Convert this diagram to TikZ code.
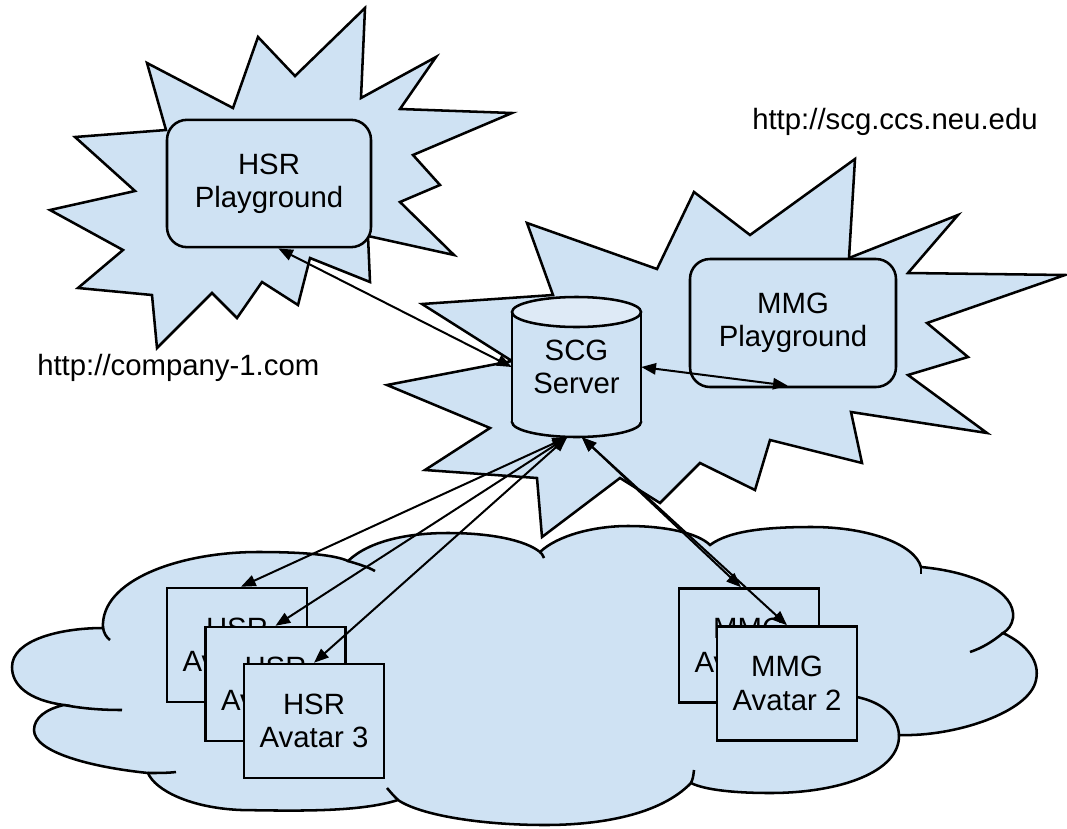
\documentclass[tikz,border=0pt]{standalone}
\usepackage{fontspec}
\setmainfont{Liberation Sans}
\usetikzlibrary{arrows.meta,calc}
\definecolor{skyfill}{HTML}{CFE2F3}
\definecolor{capfill}{HTML}{DEEAF6}

\begin{document}
\begin{tikzpicture}[x=0.75pt,y=-0.75pt,
  outline/.style={draw=black,line width=1.9pt,fill=skyfill},
  label/.style={font=\fontsize{22}{25}\selectfont,align=center,inner sep=0pt},
  pgbox/.style={outline,label,rounded corners=15pt,minimum width=153pt,minimum height=95.5pt},
  avbox/.style={outline,label,minimum width=105pt,minimum height=85.5pt},
  url/.style={font=\fontsize{22}{25}\selectfont,anchor=west,inner sep=0pt},
  hook/.style={draw=black,line width=1.9pt},
  link/.style={line width=1.5pt,{Triangle[length=11pt,width=8.5pt]}-{Triangle[length=11pt,width=8.5pt]}}]
\useasboundingbox (0,0) rectangle (1067,828);

% company-1 starburst
\path[outline] (147,63) -- (233,108) -- (258,37) -- (295,76) -- (365,8) -- (361,98)
  -- (436,57) -- (400,109) -- (512,113) -- (413,155) -- (440,185) -- (400,202)
  -- (454,255) -- (368,236) -- (370,282) -- (310,258) -- (298,305) -- (262,282)
  -- (237,318) -- (212,293) -- (157,348) -- (152,295) -- (78,288) -- (123,250)
  -- (50,210) -- (135,191) -- (75,137) -- (166,130) -- cycle;

% scg.ccs.neu.edu starburst
\path[outline] (527,223) -- (657,269) -- (694,192) -- (750,235) -- (855,159) -- (849,258)
  -- (958,215) -- (908,273) -- (1065,275) -- (927,323) -- (968,357) -- (908,375)
  -- (987,433) -- (851,412) -- (862,463) -- (770,440) -- (755,490) -- (700,463)
  -- (660,503) -- (620,478) -- (542,537) -- (537,478) -- (425,470) -- (490,428)
  -- (387,385) -- (512,361) -- (422,304) -- (553,295) -- cycle;

% client cloud
\path[outline] (103,628)
  .. controls (100,580) and (180,552) .. (258,552)
  .. controls (305,552) and (335,555) .. (348,561)
  .. controls (370,540) and (410,533) .. (448,533)
  .. controls (490,533) and (525,540) .. (540,552)
  .. controls (558,535) and (595,526) .. (628,526)
  .. controls (665,526) and (698,533) .. (710,545)
  .. controls (730,530) and (770,527) .. (812,527)
  .. controls (870,527) and (915,545) .. (921,567)
  .. controls (975,572) and (1016,592) .. (1013,618)
  .. controls (1012,625) and (1008,630) .. (1003,633)
  .. controls (1028,645) and (1040,662) .. (1036,680)
  .. controls (1030,712) and (955,737) .. (899,735)
  .. controls (900,772) and (840,793) .. (770,793)
  .. controls (735,793) and (705,790) .. (691,783)
  .. controls (660,815) and (600,825) .. (545,825)
  .. controls (480,825) and (420,815) .. (398,800)
  .. controls (360,812) and (300,811) .. (241,810)
  .. controls (190,808) and (155,790) .. (148,773)
  .. controls (90,767) and (34,752) .. (34,730)
  .. controls (34,718) and (46,709) .. (64,705)
  .. controls (28,700) and (12,685) .. (12,667)
  .. controls (12,640) and (60,628) .. (103,628)
  -- cycle;
% inner ends of the cloud lobes
\path[hook] (103,628) .. controls (104,633) and (106,637) .. (110,640);
\path[hook] (348,561) .. controls (358,564) and (368,567) .. (375,571);
\path[hook] (540,552) .. controls (542,554) .. (544,558);
\path[hook] (921,567) -- (921,574);
\path[hook] (1003,633) .. controls (992,642) and (982,648) .. (970,652);
\path[hook] (857,697) .. controls (885,703) and (898,718) .. (899,735);
\path[hook] (691,783) .. controls (693,778) .. (694,770);
\path[hook] (398,800) .. controls (393,795) .. (387,788);
\path[hook] (148,773) .. controls (158,773) and (168,773) .. (176,772);
\path[hook] (64,705) .. controls (85,709) and (105,710) .. (122,710);

% playgrounds
\node[pgbox] (hpg) at (269,183.5) {HSR\\Playground};
\node[pgbox,minimum width=154.5pt,minimum height=96pt] (mpg) at (793,323) {MMG\\Playground};

% server cylinder
\path[outline] (576.5,422) ellipse [x radius=48.375pt, y radius=11.25pt];
\fill[skyfill] (512,312) rectangle (641,422);
\draw[line width=1.9pt] (512,312) -- (512,422) (641,312) -- (641,422);
\path[outline,fill=capfill] (576.5,312) ellipse [x radius=48.375pt, y radius=11.25pt];
\node[label,minimum width=96.75pt,minimum height=105pt] (scg) at (576.5,367)
  {\raisebox{-7pt}{\parbox{96pt}{\centering SCG\\Server}}};

% avatars
\node[avbox] (ha1) at (237,645) {HSR\\Avatar 1};
\node[avbox] (ha2) at (275.5,684) {HSR\\Avatar 2};
\node[avbox] (ha3) at (314,721) {HSR\\Avatar 3};
\node[avbox] (ma1) at (749,645.5) {MMG\\Avatar 1};
\node[avbox] (ma2) at (787,683.5) {MMG\\Avatar 2};

% connections
\draw[link] (scg.west) -- ([xshift=7pt]hpg.south);
\draw[link] (scg.east) -- ([xshift=-4pt,yshift=2pt]mpg.south);
\draw[link] ([xshift=-7pt]scg.south) -- ([xshift=3pt]ha1.north);
\draw[link] ([xshift=-7pt]scg.south) -- (ha2.north);
\draw[link] ([xshift=-7pt]scg.south) -- (ha3.north);
\draw[link] ([xshift=4pt]scg.south) -- ([xshift=-6pt]ma1.north);
\draw[link] ([xshift=4pt]scg.south) -- (ma2.north);

% site addresses
\node[url] (siteA) at (37,368) {http://company-1.com};
\node[url] (siteB) at (752,122) {http://scg.ccs.neu.edu};
\end{tikzpicture}
\end{document}
